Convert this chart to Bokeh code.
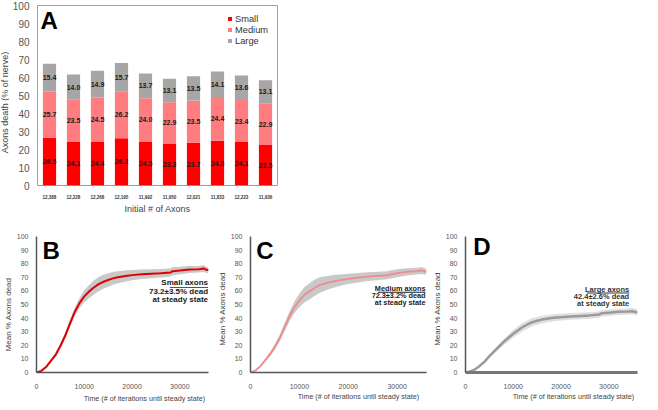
import math
from bokeh.plotting import figure
from bokeh.models import (FactorRange, Range1d, Label, Legend, LegendItem, FixedTicker,
                          BoxAnnotation, ColumnDataSource, Spacer)
from bokeh.layouts import row, column
from bokeh.embed import file_html
from bokeh.resources import INLINE
from bokeh.core.properties import value

FONT = "Liberation Sans"
NB = "\u00a0"

# ---------------- Panel A data ----------------
axon_counts = ["12,388", "12,228", "12,268", "12,195", "11,992",
               "11,950", "12,021", "11,833", "12,223", "11,936"]
small = [26.5, 24.1, 24.4, 26.2, 24.5, 23.3, 23.7, 24.8, 24.1, 22.5]
medium = [25.7, 23.5, 24.5, 26.2, 24.0, 22.9, 23.5, 24.4, 23.4, 22.9]
large = [15.4, 14.0, 14.9, 15.7, 13.7, 13.1, 13.5, 14.1, 13.6, 13.1]
size_names = ["Small", "Medium", "Large"]
size_colors = ["#ff0000", "#ff7c80", "#a6a6a6"]

# ---------------- Panels B-D data ----------------
time = [0, 1000, 2000, 3000, 4000, 5000, 6000, 7000, 8000, 9000, 10000, 11000,
        12000, 13000, 14000, 15000, 16000, 17000, 18000, 19000, 20000, 22000,
        24000, 26000, 28000, 28500, 30000, 32000, 34000, 35000, 35500, 36000]
small_mean = [0, 1.2, 4, 8.5, 13, 19.5, 27, 36, 44.5, 51, 56, 59.5, 62.5, 65, 66.7,
              68, 69.2, 70, 70.6, 71.1, 71.6, 72.2, 72.6, 73, 73.5, 74.5, 75, 75.7,
              76, 76.5, 75.5, 75.3]
small_err = [0, 0.3, 0.6, 1.0, 1.4, 1.8, 2.2, 2.7, 3.2, 3.8, 4.4, 4.9, 5.2, 5.3, 5.2,
             5.0, 4.7, 4.4, 4.2, 4.0, 3.8, 3.5, 3.3, 3.1, 3.0, 3.0, 2.8, 2.6, 2.4,
             2.6, 2.3, 2.0]
medium_mean = [0, 1.5, 4.5, 9, 13.5, 19, 25.5, 33.5, 41.5, 48, 53, 57, 59.5, 62, 64,
               65.2, 66.2, 67, 67.7, 68.3, 68.9, 69.7, 70.5, 71, 71.5, 72, 73, 74,
               74.5, 75, 74.5, 74]
medium_err = [0, 0.3, 0.7, 1.1, 1.5, 2.0, 2.5, 3.0, 3.6, 4.3, 5.0, 5.6, 6.0, 6.0, 5.8,
              5.4, 5.0, 4.6, 4.3, 4.0, 3.8, 3.5, 3.3, 3.1, 3.0, 3.0, 2.9, 2.7, 2.5,
              2.6, 2.4, 2.2]
large_mean = [0, 0.8, 2.3, 5, 8, 12, 15.5, 19, 22.5, 25.5, 28.5, 31, 33.5, 35.3, 37,
              38, 38.9, 39.5, 40, 40.4, 40.7, 41.2, 41.5, 42, 42.7, 43.5, 44, 44.6,
              44.8, 45, 44.5, 44.3]
large_err = [0, 0.3, 0.5, 0.8, 1.0, 1.3, 1.6, 1.9, 2.2, 2.5, 2.8, 3.0, 3.1, 3.1, 3.0,
             2.9, 2.8, 2.7, 2.6, 2.6, 2.5, 2.5, 2.4, 2.4, 2.4, 2.4, 2.4, 2.3, 2.3,
             2.4, 2.3, 2.2]

y_ticks = list(range(0, 101, 10))
x_ticks = [0, 10000, 20000, 30000]

# ================= Panel A =================
pA = figure(width=313, height=216, x_range=FactorRange(factors=axon_counts),
            y_range=Range1d(0, 100), output_backend="svg", toolbar_location=None,
            min_border_left=19, min_border_right=45, min_border_top=5,
            min_border_bottom=27)
pA.grid.visible = False
pA.outline_line_color = "#a0a0a0"

srcA = ColumnDataSource(dict(cat=axon_counts, Small=small, Medium=medium, Large=large))
rs = pA.vbar_stack(size_names, x="cat", width=0.55, fill_color=size_colors,
                   line_color=None, source=srcA)

mid_s = [s / 2 for s in small]
mid_m = [s + m / 2 for s, m in zip(small, medium)]
mid_l = [s + m + l / 2 for s, m, l in zip(small, medium, large)]
pA.text(x=axon_counts * 3, y=mid_s + mid_m + mid_l,
        text=["%.1f" % v for v in small + medium + large],
        text_font=value(FONT), text_font_style="bold", text_font_size="7px",
        text_align="center", text_baseline="middle", text_color="#1a1a1a")

pA.xaxis.major_label_text_font_size = "4.5px"
pA.xaxis.major_label_text_font_style = "bold"
pA.xaxis.major_label_text_color = "#333333"
pA.xaxis.major_label_text_font = FONT
pA.xaxis.major_tick_line_color = None
pA.xaxis.minor_tick_line_color = None
pA.xaxis.axis_line_color = None
pA.xaxis.major_label_standoff = 3
pA.xaxis.axis_label = "Initial # of Axons"
pA.xaxis.axis_label_text_font = FONT
pA.xaxis.axis_label_text_font_size = "9px"
pA.xaxis.axis_label_text_font_style = "normal"
pA.xaxis.axis_label_text_color = "#444444"
pA.xaxis.axis_label_standoff = 2

pA.yaxis.ticker = FixedTicker(ticks=y_ticks)
pA.yaxis.major_label_text_font_size = "10px"
pA.yaxis.major_label_text_color = "#555555"
pA.yaxis.major_label_text_font = FONT
pA.yaxis.major_tick_line_color = None
pA.yaxis.minor_tick_line_color = None
pA.yaxis.axis_line_color = None
pA.yaxis.major_label_standoff = 2

legA = Legend(items=[LegendItem(label=n, renderers=[r]) for n, r in zip(size_names, rs)],
              location=(190, 139), glyph_width=5, glyph_height=5, label_height=11,
              spacing=0, padding=0, margin=0, label_standoff=3,
              label_text_font_size="9.3px", label_text_font=FONT,
              label_text_color="#333333", border_line_color=None,
              background_fill_alpha=0)
pA.add_layout(legA)

pA.add_layout(Label(x=3, y=165.3, x_units="screen", y_units="screen", text="A",
                    text_font=FONT, text_font_size="24px", text_font_style="bold",
                    text_baseline="alphabetic", text_color="black"))

# narrow strip carrying the rotated y title of panel A (its frame aligns with pA's)
stripA = figure(width=9, height=216, x_axis_location=None, y_axis_location=None,
                min_border=0, toolbar_location=None, output_backend="svg")
stripA.outline_line_color = None
stripA.grid.visible = False
stripA.add_layout(Label(x=4.9, y=83, x_units="screen", y_units="screen",
                        text="Axons death (% of nerve)", angle=math.pi / 2,
                        text_align="center", text_baseline="middle", text_font=FONT,
                        text_font_size="9px", text_color="#444444"))


# ================= Panels B-D =================
def curve_panel(width, height, left, right, top, bottom, mean, err, line_color,
                line_width, band_color, letter, letter_xy, ypad, xpad, xstand,
                lines, text_x, text_ys, text_size, text_color, ul, xaxis_style):
    p = figure(width=width, height=height, x_range=Range1d(0, 36000),
               y_range=Range1d(0, 100), output_backend="svg", toolbar_location=None,
               min_border_left=left, min_border_right=right, min_border_top=top,
               min_border_bottom=bottom)
    p.grid.visible = False
    p.outline_line_color = None
    lower = [m - e for m, e in zip(mean, err)]
    upper = [m + e for m, e in zip(mean, err)]
    p.varea(x=time, y1=lower, y2=upper, fill_color=band_color, fill_alpha=0.95)
    p.line(x=time, y=mean, line_color=line_color, line_width=line_width)

    for ax in (p.xaxis, p.yaxis):
        ax.major_label_text_font = FONT
        ax.major_label_text_font_size = "7px"
        ax.major_label_text_color = "#555555"
        ax.major_tick_line_color = None
        ax.minor_tick_line_color = None
        ax.axis_label_text_font = FONT
        ax.axis_label_text_font_style = "normal"
        ax.axis_label_text_color = "#444444"
    p.xaxis.ticker = FixedTicker(ticks=x_ticks)
    p.yaxis.ticker = FixedTicker(ticks=y_ticks)
    p.xaxis.major_label_standoff = 5
    p.yaxis.major_label_standoff = 2
    p.yaxis.axis_line_color = "#555555"
    p.yaxis.axis_line_width = 1.5
    p.xaxis.axis_line_color = xaxis_style[0]
    p.xaxis.axis_line_width = xaxis_style[1]

    p.yaxis.axis_label = "Mean % Axons dead" + NB * ypad
    p.yaxis.axis_label_text_font_size = "8px"
    p.yaxis.axis_label_standoff = 1
    p.xaxis.axis_label = NB * xpad + "Time (# of iterations until steady state)"
    p.xaxis.axis_label_text_font_size = "7.2px"
    p.xaxis.axis_label_standoff = xstand

    p.add_layout(Label(x=letter_xy[0], y=letter_xy[1], x_units="screen",
                       y_units="screen", text=letter, text_font=FONT,
                       text_font_size="24px", text_font_style="bold",
                       text_baseline="alphabetic", text_color="black"))
    for txt, ty in zip(lines, text_ys):
        p.add_layout(Label(x=text_x, y=ty, text=txt, text_align="right",
                           text_baseline="middle", text_font=FONT,
                           text_font_size=text_size, text_font_style="bold",
                           text_color=text_color))
    p.add_layout(BoxAnnotation(left=ul[0], right=ul[1], bottom=ul[2] - 0.35,
                               top=ul[2] + 0.35, fill_color=text_color,
                               fill_alpha=1, line_alpha=0))
    return p


pB = curve_panel(214, 189, 25, 6, 15, 27, small_mean, small_err, "#e00000", 2,
                 "#c6c6c6", "B", (6, 122),
                 9, 22, 2,
                 ["Small axons", "73.2\u00b13.5% dead", "at steady state"],
                 35900, [66.4, 59.3, 53.7], "8px", "#1a1a1a",
                 (27900, 35900, 62.6), ("#555555", 1.5))
pC = curve_panel(215, 189, 31, 3, 20, 25, medium_mean, medium_err, "#f28a8a", 1.8,
                 "#c6c6c6", "C", (5.7, 121.6),
                 4, 20, 0,
                 ["Medium axons", "72.3\u00b13.2% dead", "at steady state"],
                 35800, [61.6, 56.6, 51.4], "7.3px", "#1a1a1a",
                 (26050, 35800, 59.0), ("#555555", 1.5))
pD = curve_panel(213, 189, 27, 5, 17, 24, large_mean, large_err, "#9a9a9a", 2.5,
                 "#dedede", "D", (7.8, 126),
                 4, 22, 0,
                 ["Large axons", "42.4\u00b12.6% dead", "at steady state"],
                 34260, [61.1, 56.0, 50.7], "7.5px", "#333333",
                 (25400, 34260, 58.5), ("#777777", 3))

top_row = row(stripA, pA, Spacer(width=320, height=216))
bottom_row = row(pB, pC, pD)
layout = column(top_row, bottom_row)

with open("out.html", "w") as f:
    f.write(file_html(layout, INLINE))
